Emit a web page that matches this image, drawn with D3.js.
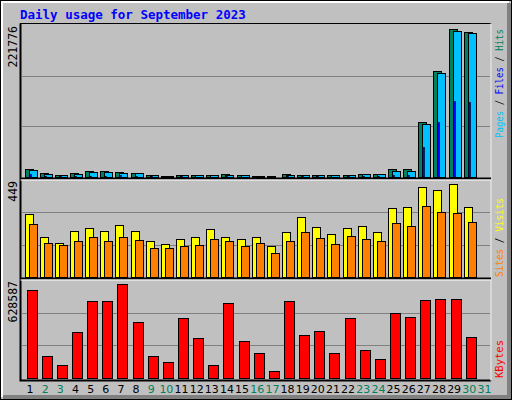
<!DOCTYPE html>
<html><head><meta charset="utf-8">
<script src="https://cdn.jsdelivr.net/npm/d3@7"></script>
<style>body{margin:0;background:#fff}svg{display:block}</style>
</head><body>
<script>
const days = d3.range(1, 32);
const weekend = [2,3,9,10,16,17,23,24,30,31];
const hits  = [12200,6400,3000,6400,8500,8500,8000,6400,3000,2000,3000,2500,2500,4000,2500,2000,1000,4000,3500,3500,3000,3500,4500,5000,11700,11700,80000,154700,216000,211000,0];
const files = [9700,4900,2900,4900,8000,8000,6500,5500,2900,1500,2900,2400,2400,3000,2400,1500,500,3000,3000,3000,2900,3000,4000,4800,8800,8800,77000,151700,213000,210000,0];
const pages = [4000,1500,800,1500,2000,2000,2200,1500,800,500,800,700,700,1000,700,400,200,900,800,800,700,900,1200,1500,3000,2500,44000,80000,111000,109000,0];
const visits = [290,184,156,212,225,212,239,212,165,151,175,184,221,184,175,184,142,207,276,230,198,225,235,207,318,323,415,401,429,323,0];
const sites  = [244,156,147,165,184,165,184,170,133,133,142,147,175,165,142,156,110,165,207,179,151,188,175,165,248,235,327,299,295,253,0];
const kbytes = [562000,139000,81000,293000,492000,492000,601000,357000,139000,101000,383000,255000,81000,479000,235000,158000,43000,492000,274000,300000,158000,383000,178000,120000,415000,389000,498000,505000,505000,261000,0];
const maxHits = 221776, maxVisits = 449, maxKB = 628587;

const svg = d3.select("body").append("svg").attr("width",512).attr("height",400);
svg.append("rect").attr("width",512).attr("height",400).attr("fill","#c0c0c0");
// 3D frame
svg.append("rect").attr("x",0.5).attr("y",0.5).attr("width",511).attr("height",399).attr("fill","none").attr("stroke","#000");
svg.append("path").attr("d","M2,397V2H509").attr("fill","none").attr("stroke","#fff").attr("stroke-width",2);
svg.append("path").attr("d","M507,3V395H3").attr("fill","none").attr("stroke","#808080").attr("stroke-width",0);
svg.append("rect").attr("x",507).attr("y",3).attr("width",4).attr("height",396).attr("fill","#808080");
svg.append("rect").attr("x",3).attr("y",395).attr("width",508).attr("height",4).attr("fill","#808080");

svg.append("text").attr("x",20).attr("y",19).text("Daily usage for September 2023")
  .attr("font-family","DejaVu Sans Mono").attr("font-weight","bold").attr("font-size",12.5).attr("fill","#0000ff");

const x = d3.scaleBand().domain(days).range([20.5, 490]).paddingInner(0);
const L = 20.5, R = 491;
const panels = [
  {top:25, bot:177, max:maxHits, label:"221776"},
  {top:180, bot:277, max:maxVisits, label:"449"},
  {top:280, bot:378, max:maxKB, label:"628587"}
];
const ys = panels.map(p => d3.scaleLinear().domain([0,p.max]).range([p.bot,p.top]));

// panel boxes
svg.append("rect").attr("x",L).attr("y",23.5).attr("width",R-L).attr("height",357).attr("fill","none").attr("stroke","#000").attr("stroke-width",1);
svg.append("path").attr("d",`M${L},${23.5}V${380.5}H${R}`).attr("fill","none").attr("stroke","#000").attr("stroke-width",2);
svg.append("path").attr("d",`M${R},${23.5}V${380.5}`).attr("fill","none").attr("stroke","#fff").attr("stroke-width",1.5);
[179,279].forEach(yy=>{
  svg.append("line").attr("x1",L).attr("x2",R).attr("y1",yy-0.5).attr("y2",yy-0.5).attr("stroke","#000").attr("stroke-width",2);
  svg.append("line").attr("x1",L).attr("x2",R).attr("y1",yy+1).attr("y2",yy+1).attr("stroke","#fff").attr("stroke-width",1);
});
panels.forEach((p,i)=>{
  const y = ys[i];
  [p.max/3, 2*p.max/3].forEach(v=>{
    svg.append("line").attr("x1",L+1).attr("x2",R-1).attr("y1",Math.round(y(v))+0.5).attr("y2",Math.round(y(v))+0.5).attr("stroke","#808080");
  });
  svg.append("text").attr("transform",`translate(${i==1?17:17},${p.top+1}) rotate(-90)`)
    .attr("text-anchor","end").attr("font-family","DejaVu Sans Mono").attr("font-size",11.5).attr("fill","#000").text(p.label);
});

function bars(data, yi, off, w, color){
  const y = ys[yi];
  svg.append("g").selectAll("rect").data(days.filter((d,i)=>data[i]>0)).join("rect")
    .attr("x", d=>Math.round(x(d)+4)+off+0.5).attr("width",w)
    .attr("y", d=>Math.round(y(data[d-1]))+0.5).attr("height", d=>panels[yi].bot-Math.round(y(data[d-1])))
    .attr("fill",color).attr("stroke","#000").attr("stroke-width",1);
}
bars(hits,0,0,8,"#00805c");
bars(files,0,4,8,"#00c0ff");
// pages as narrow strip inside files
svg.append("g").selectAll("rect").data(days.filter((d,i)=>pages[i]>0)).join("rect")
  .attr("x", d=>Math.round(x(d)+4)+4+0.5).attr("width",2)
  .attr("y", d=>Math.round(ys[0](pages[d-1]))+0.5).attr("height", d=>panels[0].bot-Math.round(ys[0](pages[d-1]))-0.5)
  .attr("fill","#0000ff").attr("stroke","#000").attr("stroke-width",0.6);
bars(visits,1,0,8,"#ffff00");
bars(sites,1,4,8,"#ff8000");
bars(kbytes,2,2,10,"#ff0000");

// day labels
svg.append("g").selectAll("text").data(days).join("text")
  .attr("x", d=>x(d)+x.bandwidth()/2+2).attr("y",393).attr("text-anchor","middle")
  .attr("font-family","DejaVu Sans").attr("font-size",11)
  .attr("fill", d=>weekend.includes(d)?"#00805c":"#000").text(d=>d);

// right legends
function legend(parts, yb, len){
  const t = svg.append("text").attr("transform",`translate(503,${yb}) rotate(-90)`)
    .attr("font-family","DejaVu Sans Mono").attr("font-size",10).attr("textLength",len).attr("lengthAdjust","spacingAndGlyphs");
  parts.forEach(([s,c])=>t.append("tspan").attr("fill",c).text(s));
}
legend([["Pages","#00c0ff"],[" / ","#000"],["Files","#0000ff"],[" / ","#000"],["Hits","#00805c"]],138,109);
legend([["Sites","#ff8000"],[" / ","#000"],["Visits","#ffff00"]],277,79);
legend([["KBytes","#ff0000"]],378,38);
</script>
</body></html>
